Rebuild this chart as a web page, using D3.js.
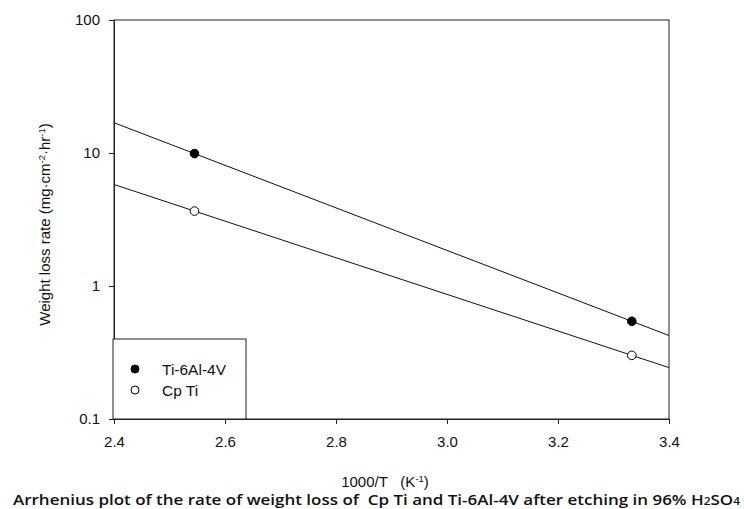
<!DOCTYPE html>
<html>
<head>
<meta charset="utf-8">
<script src="https://cdn.jsdelivr.net/npm/d3@7"></script>
<style>
  body { margin: 0; background: #fff; }
  text { font-family: "Liberation Sans", Arial, sans-serif; fill: #111; }
</style>
</head>
<body>
<div id="chart"></div>
<script>
// data
const invT = [2.545, 3.333];                 // 1000/T (K^-1)
const tiAlloy = [9.9, 0.543];                // Ti-6Al-4V weight loss rate
const cpTi = [3.66, 0.301];                  // Cp Ti weight loss rate
const xTicks = [2.4, 2.6, 2.8, 3.0, 3.2, 3.4];
const yTicks = [0.1, 1, 10, 100];

const width = 744, height = 509;
const margin = {top: 20, right: 75, bottom: 90, left: 114};

const svg = d3.select("#chart").append("svg")
  .attr("width", width)
  .attr("height", height);

const x = d3.scaleLinear().domain([2.4, 3.4]).range([margin.left, width - margin.right]);
const y = d3.scaleLog().domain([0.1, 100]).range([height - margin.bottom, margin.top]);

// frame
svg.append("rect")
  .attr("x", x(2.4)).attr("y", y(100))
  .attr("width", x(3.4) - x(2.4)).attr("height", y(0.1) - y(100))
  .attr("fill", "none").attr("stroke", "#222").attr("stroke-width", 1);

// axes
const xAxis = svg.append("g")
  .attr("transform", `translate(0,${y(0.1)})`)
  .call(d3.axisBottom(x).tickValues(xTicks).tickFormat(d3.format(".1f")).tickSizeOuter(0).tickSize(5).tickPadding(12));
const yAxis = svg.append("g")
  .attr("transform", `translate(${x(2.4)},0)`)
  .call(d3.axisLeft(y).tickValues(yTicks).tickFormat(d => String(d)).tickSizeOuter(0).tickSize(5).tickPadding(9));
[xAxis, yAxis].forEach(g => {
  g.select(".domain").attr("stroke", "#222");
  g.selectAll(".tick line").attr("stroke", "#222");
  g.selectAll(".tick text").attr("font-size", 15).attr("font-family", "Liberation Sans, Arial, sans-serif").attr("fill", "#111");
});

// fitted lines (log-linear through each series), extended across the plot
function fitLine(vals) {
  const slope = (Math.log10(vals[1]) - Math.log10(vals[0])) / (invT[1] - invT[0]);
  const f = t => Math.pow(10, Math.log10(vals[0]) + slope * (t - invT[0]));
  return [[2.4, f(2.4)], [3.4, f(3.4)]];
}
const line = d3.line().x(d => x(d[0])).y(d => y(d[1]));

const series = [
  {name: "Ti-6Al-4V", vals: tiAlloy, fill: "#000"},
  {name: "Cp Ti", vals: cpTi, fill: "#fff"}
];

series.forEach(s => {
  svg.append("path")
    .attr("d", line(fitLine(s.vals)))
    .attr("fill", "none").attr("stroke", "#111").attr("stroke-width", 1);
  svg.selectAll(null)
    .data(invT.map((t, i) => [t, s.vals[i]]))
    .enter().append("circle")
    .attr("cx", d => x(d[0])).attr("cy", d => y(d[1]))
    .attr("r", 4.3)
    .attr("fill", s.fill).attr("stroke", "#000").attr("stroke-width", 1);
});

// legend
const lg = svg.append("g");
lg.append("rect")
  .attr("x", 113).attr("y", 339).attr("width", 133).attr("height", y(0.1) - 339)
  .attr("fill", "#fff").attr("stroke", "#222");
series.forEach((s, i) => {
  const cy = 369 + i * 21;
  lg.append("circle").attr("cx", 135).attr("cy", cy).attr("r", 4)
    .attr("fill", s.fill).attr("stroke", "#000");
  lg.append("text").attr("x", 162).attr("y", cy + 5.5).attr("font-size", 15.5).text(s.name);
});

// axis titles
svg.append("text")
  .attr("x", 385).attr("y", 487)
  .attr("text-anchor", "middle").attr("font-size", 15)
  .html('1000/T&#160;&#160;&#160;(K<tspan font-size="9.5" dy="-5">-1</tspan><tspan dy="5">)</tspan>');

svg.append("text")
  .attr("transform", `translate(50,${(y(0.1) + y(100)) / 2 + 5}) rotate(-90)`)
  .attr("text-anchor", "middle").attr("font-size", 15)
  .html('Weight loss rate (mg·cm<tspan font-size="9.5" dy="-5">-2</tspan><tspan dy="5">·hr</tspan><tspan font-size="9.5" dy="-5">-1</tspan><tspan dy="5">)</tspan>');

// caption
svg.append("text")
  .attr("x", 13).attr("y", 505)
  .attr("font-size", 15).attr("font-weight", 600)
  .style("font-family", "'Open Sans', sans-serif")
  .attr("textLength", 727).attr("lengthAdjust", "spacingAndGlyphs")
  .html('Arrhenius plot of the rate of weight loss of&#160; Cp Ti and Ti-6Al-4V after etching in 96% H<tspan font-size="10.5">2</tspan>SO<tspan font-size="10.5">4</tspan>');
</script>
</body>
</html>
